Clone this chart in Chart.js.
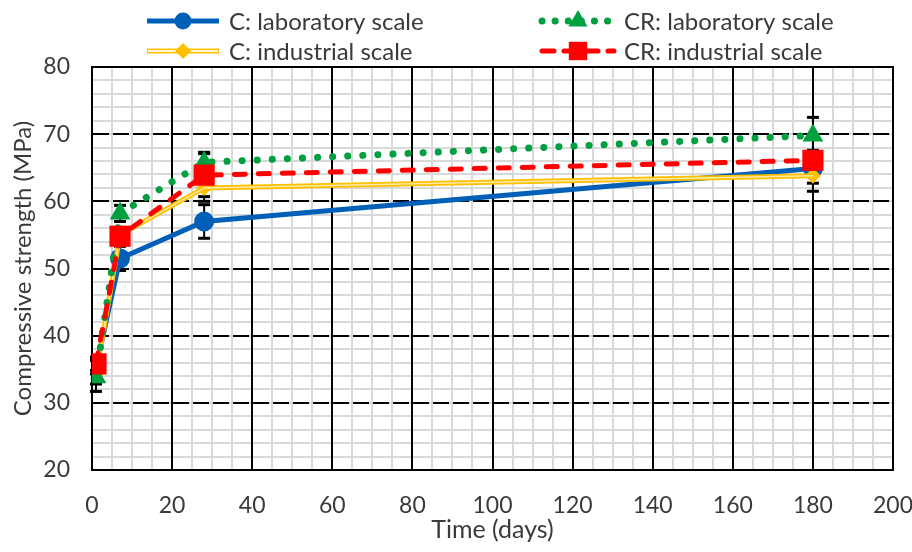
<!DOCTYPE html>
<html><head><meta charset="utf-8">
<script src="https://cdn.jsdelivr.net/npm/chart.js@4/dist/chart.umd.min.js"></script>
<style>html,body{margin:0;padding:0;background:#fff}canvas{display:block}</style>
</head><body>
<canvas id="c" width="912" height="552"></canvas>
<script>
// ---- data ----
const days = [1, 7, 28, 180];
const cLab = [35.3, 51.5, 57.0, 64.9];
const cInd = [34.2, 55.0, 62.0, 63.8];
const crLab = [33.8, 58.2, 65.8, 69.8];
const crInd = [35.8, 54.8, 63.9, 66.1];
const cLabErr = [1.0, 1.8, 2.5, 2.2];
const cIndErr = [2.5, 1.0, 2.0, 2.3];
const crLabErr = [1.0, 1.2, 1.5, 2.7];
const crIndErr = [1.0, 1.0, 3.2, 1.5];
const xTickLabels = [0, 20, 40, 60, 80, 100, 120, 140, 160, 180, 200];
const yTickLabels = [20, 30, 40, 50, 60, 70, 80];
const seriesNames = ['C: laboratory scale', 'C: industrial scale', 'CR: laboratory scale', 'CR: industrial scale'];

const FONT = 'Lato, "Liberation Sans", sans-serif';
const TXT = '#3a3a3a';
const pts = (ys) => days.map((d, i) => ({x: d, y: ys[i]}));

const datasets = [
  {label: seriesNames[3], data: pts(crInd), errorBars: crIndErr, order: 0,
   borderColor: '#FF0000', backgroundColor: '#FF0000', borderWidth: 5,
   borderDash: [11, 13], borderCapStyle: 'round', pointStyle: 'rect', pointRadius: 15, pointHoverRadius: 15, pointBorderWidth: 0},
  {label: seriesNames[2], data: pts(crLab), errorBars: crLabErr, order: 1,
   borderColor: '#00A040', backgroundColor: '#00A040', borderWidth: 7,
   borderDash: [0.1, 15], borderCapStyle: 'round', pointStyle: 'triangle', pointRadius: 12, pointHoverRadius: 12, pointBorderWidth: 0},
  {label: '', data: pts(cInd), order: 2,
   borderColor: '#FFE9A8', borderWidth: 1.5, pointRadius: 0},
  {label: seriesNames[1], data: pts(cInd), errorBars: cIndErr, order: 3,
   borderColor: '#FFC000', backgroundColor: '#FFC000', borderWidth: 5,
   pointStyle: 'rectRot', pointRadius: 8, pointHoverRadius: 8, pointBorderWidth: 0},
  {label: seriesNames[0], data: pts(cLab), errorBars: cLabErr, order: 4,
   borderColor: '#0060B8', backgroundColor: '#0060B8', borderWidth: 5,
   pointStyle: 'circle', pointRadius: 10, pointHoverRadius: 10, pointBorderWidth: 0}
];

const errorBarPlugin = {
  id: 'errorBars',
  beforeDatasetsDraw(chart) {
    const {ctx, scales: {x, y}} = chart;
    ctx.save();
    ctx.strokeStyle = '#000';
    ctx.fillStyle = '#000';
    ctx.lineWidth = 2;
    chart.data.datasets.forEach(ds => {
      if (!ds.errorBars) return;
      ds.data.forEach((p, i) => {
        const e = ds.errorBars[i];
        const px = x.getPixelForValue(p.x);
        const top = y.getPixelForValue(p.y + e);
        const bot = y.getPixelForValue(p.y - e);
        ctx.beginPath();
        ctx.moveTo(px, top); ctx.lineTo(px, bot);
        ctx.stroke();
        ctx.fillRect(px - 6, top - 1.5, 12, 3);
        ctx.fillRect(px - 6, bot - 1.5, 12, 3);
      });
    });
    ctx.restore();
  }
};

const framePlugin = {
  id: 'frame',
  beforeDatasetsDraw(chart) {
    const {ctx, chartArea: a} = chart;
    ctx.save();
    ctx.strokeStyle = '#000';
    ctx.lineWidth = 2;
    ctx.strokeRect(a.left, a.top, a.right - a.left, a.bottom - a.top);
    ctx.restore();
  }
};

const legendPlugin = {
  id: 'customLegend',
  afterDraw(chart) {
    const {ctx} = chart;
    const slots = {};
    slots[seriesNames[0]] = {x0: 147, x1: 219, y: 21, tx: 229};
    slots[seriesNames[1]] = {x0: 147, x1: 219, y: 51, tx: 229};
    slots[seriesNames[2]] = {x0: 542, x1: 614, y: 21, tx: 624};
    slots[seriesNames[3]] = {x0: 542, x1: 614, y: 51, tx: 624};
    chart.data.datasets.forEach(ds => {
      const s = slots[ds.label];
      if (!s) return;
      ctx.save();
      ctx.strokeStyle = ds.borderColor;
      ctx.lineWidth = ds.borderWidth;
      ctx.lineCap = ds.borderCapStyle || 'butt';
      ctx.setLineDash(ds.borderDash ? (ds.pointStyle === 'triangle' ? [0.1, 13] : [12, 10]) : []);
      ctx.beginPath();
      ctx.moveTo(s.x0, s.y); ctx.lineTo(s.x1, s.y);
      ctx.stroke();
      if (ds.label === seriesNames[1]) {
        ctx.setLineDash([]);
        ctx.strokeStyle = '#FFF6D8';
        ctx.lineWidth = 2;
        ctx.beginPath(); ctx.moveTo(s.x0 + 1, s.y); ctx.lineTo(s.x1 - 1, s.y); ctx.stroke();
      }
      ctx.setLineDash([]);
      const r = ds.pointStyle === 'rect' ? 13 : ds.pointStyle === 'triangle' ? 11 : ds.pointStyle === 'rectRot' ? 8 : 8.5;
      ctx.fillStyle = ds.backgroundColor;
      ctx.strokeStyle = ds.backgroundColor;
      Chart.helpers.drawPoint(ctx, {pointStyle: ds.pointStyle, rotation: 0, borderWidth: 0, radius: r}, (s.x0 + s.x1) / 2, s.y);
      ctx.fillStyle = TXT;
      ctx.font = '24px ' + FONT;
      ctx.textBaseline = 'middle';
      ctx.textAlign = 'left';
      ctx.fillText(ds.label, s.tx, s.y + 1);
      ctx.restore();
    });
  }
};

new Chart(document.getElementById('c'), {
  type: 'line',
  data: {datasets},
  options: {
    responsive: false,
    animation: false,
    layout: {padding: {top: 67, right: 0, bottom: 0, left: 0}},
    plugins: {legend: {display: false}, tooltip: {enabled: false}},
    scales: {
      xMinor: {
        type: 'linear', position: 'bottom', min: 0, max: 200,
        ticks: {stepSize: 5, display: false},
        grid: {color: '#D9D9D9', lineWidth: 2, drawTicks: false, z: -2},
        border: {display: false},
        afterFit: s => { s.height = 0; s.paddingLeft = 0; s.paddingRight = 0; }
      },
      yMinor: {
        type: 'linear', position: 'left', min: 20, max: 80,
        ticks: {stepSize: 2, display: false},
        grid: {color: '#D9D9D9', lineWidth: 2, drawTicks: false, z: -2},
        border: {display: false},
        afterFit: s => { s.width = 0; s.paddingTop = 0; s.paddingBottom = 0; }
      },
      x: {
        type: 'linear', position: 'bottom', min: 0, max: 200,
        afterBuildTicks: s => { s.ticks = xTickLabels.map(v => ({value: v})); },
        ticks: {color: TXT, font: {family: FONT, size: 23}, padding: 22, maxRotation: 0, autoSkip: false},
        grid: {color: '#000', lineWidth: 2, drawTicks: false, z: -1},
        border: {display: true, color: '#000', width: 2},
        title: {display: true, text: 'Time (days)', color: TXT, font: {family: FONT, size: 25}, padding: {top: 0, bottom: 7}},
        afterFit: s => { s.height = 82; s.paddingLeft = 0; s.paddingRight = 19; }
      },
      y: {
        type: 'linear', position: 'left', min: 20, max: 80,
        afterBuildTicks: s => { s.ticks = yTickLabels.map(v => ({value: v})); },
        ticks: {color: TXT, font: {family: FONT, size: 23}, padding: 22},
        grid: {color: '#000', lineWidth: 2, drawTicks: false, z: -1},
        border: {display: true, color: '#000', width: 2, dash: [16, 4]},
        title: {display: true, text: 'Compressive strength (MPa)', color: TXT, font: {family: FONT, size: 24}, padding: {top: 9, bottom: 0}},
        afterFit: s => { s.width = 92; }
      }
    }
  },
  plugins: [errorBarPlugin, framePlugin, legendPlugin]
});
</script>
</body></html>
